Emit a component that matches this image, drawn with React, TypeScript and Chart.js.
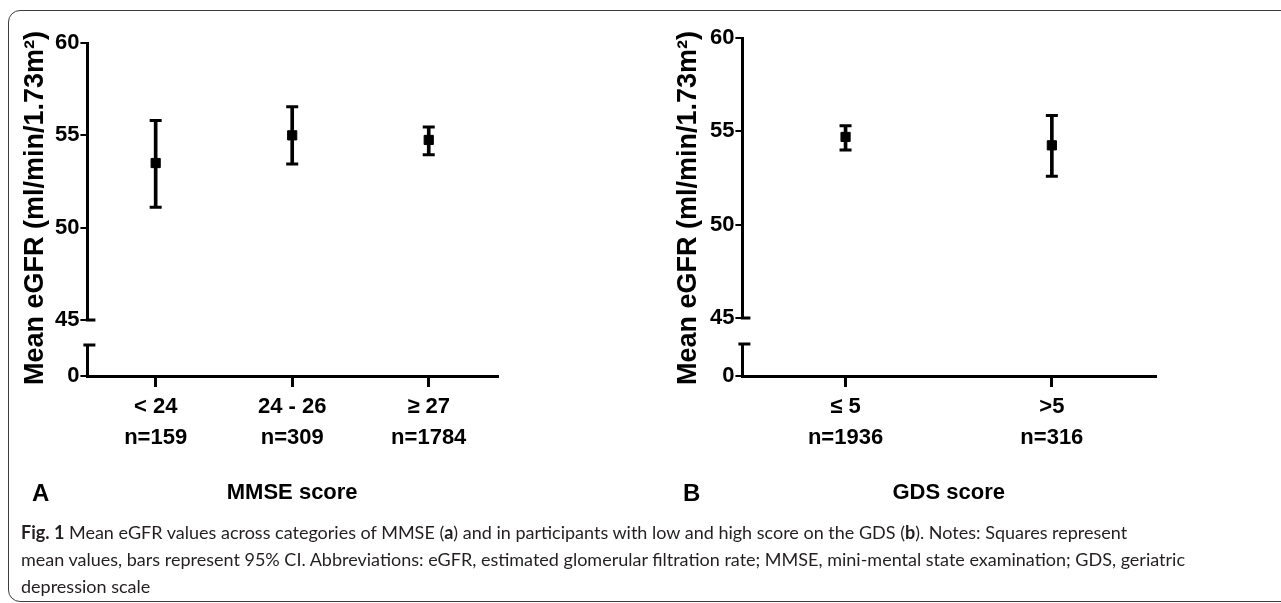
import React, { useEffect, useRef } from 'react';
import { Chart, registerables } from 'chart.js';

Chart.register(...registerables);

// ---------- data ----------
const mmseCategories = ['< 24', '24 - 26', '≥ 27'];
const mmseCounts = ['n=159', 'n=309', 'n=1784'];
const mmseMean = [53.5, 55.0, 54.75];
const mmseLow = [51.1, 53.45, 53.95];
const mmseHigh = [55.8, 56.55, 55.45];

const gdsCategories = ['≤ 5', '>5'];
const gdsCounts = ['n=1936', 'n=316'];
const gdsMean = [54.7, 54.25];
const gdsLow = [54.0, 52.6];
const gdsHigh = [55.3, 55.85];

const upperTicks = [45, 50, 55, 60];
const lowerTicks = [0];

const yTitleText = 'Mean eGFR (ml/min/1.73m²)';

const SANS = "'Liberation Sans', Arial, Helvetica, sans-serif";

Chart.defaults.color = '#000';

const axisBreakPlugin = {
  id: 'axisBreak',
  afterDraw(chart: any) {
    const top = chart.scales.yTop;
    const low = chart.scales.yLow;
    const ctx = chart.ctx;
    ctx.save();
    ctx.strokeStyle = '#000';
    ctx.lineWidth = 3;
    ctx.beginPath();
    ctx.moveTo(top.right - 1.5, top.bottom);
    ctx.lineTo(top.right + 8, top.bottom);
    ctx.moveTo(low.right - 4, low.top);
    ctx.lineTo(low.right + 8, low.top);
    ctx.stroke();
    ctx.restore();
  },
};

type Panel = {
  categories: string[];
  counts: string[];
  mean: number[];
  low: number[];
  high: number[];
  xTitle: string;
  width: number;
  height: number;
  padRight: number;
  titlePadTop: number;
  stackWidth: number;
  padWeight: number;
  topWeight: number;
  gapWeight: number;
  lowWeight: number;
  areaBottom: number;
};

function buildConfig(p: Panel): any {
  const labels = p.categories.map((c, i) => [c, p.counts[i]]);
  const tickFont = { family: SANS, size: 22, weight: 'bold' as const };
  const blankAxis = (weight: number) => ({
    type: 'linear',
    position: 'left',
    stack: 'y',
    stackWeight: weight,
    min: 0,
    max: 1,
    grid: { display: false },
    border: { display: false },
    ticks: { display: false },
  });
  const pointSet = (data: number[], style: string, radius: number) => ({
    type: 'line',
    data,
    yAxisID: 'yTop',
    showLine: false,
    pointStyle: style,
    pointRadius: radius,
    pointHoverRadius: radius,
    pointBorderWidth: style === 'line' ? 3 : 1,
    pointBorderColor: '#000',
    pointBackgroundColor: '#000',
    borderColor: '#000',
    backgroundColor: '#000',
  });
  return {
    type: 'bar',
    data: {
      labels,
      datasets: [
        {
          type: 'bar',
          data: p.low.map((l, i) => [l, p.high[i]]),
          yAxisID: 'yTop',
          backgroundColor: '#000',
          borderWidth: 0,
          barThickness: 3,
        },
        pointSet(p.high, 'line', 6),
        pointSet(p.low, 'line', 6),
        pointSet(p.mean, 'rect', 6.5),
      ],
    },
    options: {
      animation: false,
      responsive: false,
      maintainAspectRatio: false,
      layout: { padding: { top: 31, left: 0, right: p.padRight, bottom: 0 } },
      plugins: {
        legend: { display: false },
        tooltip: { enabled: false },
        title: {
          display: true,
          position: 'left',
          align: 'end',
          fullSize: true,
          text: yTitleText,
          color: '#000',
          font: { family: SANS, size: 27, weight: 'bold', lineHeight: 1.2 },
          padding: { top: p.titlePadTop, bottom: 0 },
        },
      },
      scales: {
        x: {
          type: 'category',
          offset: true,
          grid: {
            display: true,
            drawOnChartArea: false,
            drawTicks: true,
            tickLength: 11,
            lineWidth: 3,
            color: '#000',
            offset: false,
          },
          border: { display: true, width: 3, color: '#000' },
          ticks: {
            color: '#000',
            font: { family: SANS, size: 22, weight: 'bold', lineHeight: 1.4 },
            padding: 5,
            maxRotation: 0,
            autoSkip: false,
          },
          title: {
            display: true,
            text: p.xTitle,
            color: '#000',
            font: { family: SANS, size: 22, weight: 'bold', lineHeight: 1.2 },
            padding: { top: 0, bottom: 14 },
          },
          afterFit: (s: any) => {
            s.height = p.height - p.areaBottom;
          },
        },
        yLow: {
          type: 'linear',
          position: 'left',
          stack: 'y',
          stackWeight: p.lowWeight,
          min: 0,
          max: 10,
          afterBuildTicks: (s: any) => {
            s.ticks = lowerTicks.map((v) => ({ value: v }));
          },
          grid: { display: true, drawOnChartArea: false, tickLength: 7, lineWidth: 2, color: '#000' },
          border: { display: true, width: 3, color: '#000' },
          ticks: { color: '#000', font: tickFont, padding: 1 },
          afterFit: (s: any) => {
            s.width = p.stackWidth;
          },
        },
        yGap: blankAxis(p.gapWeight),
        yTop: {
          type: 'linear',
          position: 'left',
          stack: 'y',
          stackWeight: p.topWeight,
          min: 45,
          max: 60,
          afterBuildTicks: (s: any) => {
            s.ticks = upperTicks.map((v) => ({ value: v }));
          },
          grid: { display: true, drawOnChartArea: false, tickLength: 7, lineWidth: 2, color: '#000' },
          border: { display: true, width: 3, color: '#000' },
          ticks: { color: '#000', font: tickFont, padding: 1 },
          afterFit: (s: any) => {
            s.width = p.stackWidth;
          },
        },
        yPad: blankAxis(p.padWeight),
      },
    },
    plugins: [axisBreakPlugin],
  };
}

const panelA: Panel = {
  categories: mmseCategories,
  counts: mmseCounts,
  mean: mmseMean,
  low: mmseLow,
  high: mmseHigh,
  xTitle: 'MMSE score',
  width: 640,
  height: 520,
  padRight: 143,
  titlePadTop: 19,
  stackWidth: 36,
  padWeight: 12,
  topWeight: 277,
  gapWeight: 25,
  lowWeight: 31,
  areaBottom: 376,
};

const panelB: Panel = {
  categories: gdsCategories,
  counts: gdsCounts,
  mean: gdsMean,
  low: gdsLow,
  high: gdsHigh,
  xTitle: 'GDS score',
  width: 641,
  height: 520,
  padRight: 126,
  titlePadTop: 32,
  stackWidth: 38,
  padWeight: 7,
  topWeight: 280,
  gapWeight: 26,
  lowWeight: 32,
  areaBottom: 376,
};

function PanelChart({ panel, left }: { panel: Panel; left: number }) {
  const ref = useRef<HTMLCanvasElement | null>(null);
  useEffect(() => {
    if (!ref.current) return;
    const chart = new Chart(ref.current, buildConfig(panel));
    return () => chart.destroy();
  }, [panel]);
  return (
    <canvas
      ref={ref}
      width={panel.width}
      height={panel.height}
      style={{ position: 'absolute', left, top: 0, width: panel.width, height: panel.height }}
    />
  );
}

const letterStyle: React.CSSProperties = {
  position: 'absolute',
  top: 481,
  fontFamily: SANS,
  fontWeight: 'bold',
  fontSize: 24,
  lineHeight: '24px',
  color: '#000',
};

export default function App() {
  return (
    <div
      style={{
        position: 'absolute',
        left: 0,
        top: 0,
        width: 1281,
        height: 603,
        overflow: 'hidden',
        background: '#fff',
      }}
    >
      <div
        style={{
          position: 'absolute',
          left: 8,
          top: 10,
          width: 1320,
          height: 592,
          border: '1.5px solid #3c3c3c',
          borderRadius: 12,
          boxSizing: 'border-box',
        }}
      />
      <PanelChart panel={panelA} left={0} />
      <PanelChart panel={panelB} left={640} />
      <div style={{ ...letterStyle, left: 32 }}>A</div>
      <div style={{ ...letterStyle, left: 683 }}>B</div>
      <div
        style={{
          position: 'absolute',
          left: 21,
          top: 519,
          fontFamily: "Lato, 'Open Sans', sans-serif",
          fontSize: 18,
          lineHeight: '27px',
          color: '#231f20',
          whiteSpace: 'nowrap',
        }}
      >
        <div>
          <b>Fig. 1</b> Mean eGFR values across categories of MMSE (<b>a</b>) and in participants with low and high
          score on the GDS (<b>b</b>). Notes: Squares represent
        </div>
        <div>
          mean values, bars represent 95% CI. Abbreviations: eGFR, estimated glomerular filtration rate; MMSE,
          mini-mental state examination; GDS, geriatric
        </div>
        <div>depression scale</div>
      </div>
    </div>
  );
}
